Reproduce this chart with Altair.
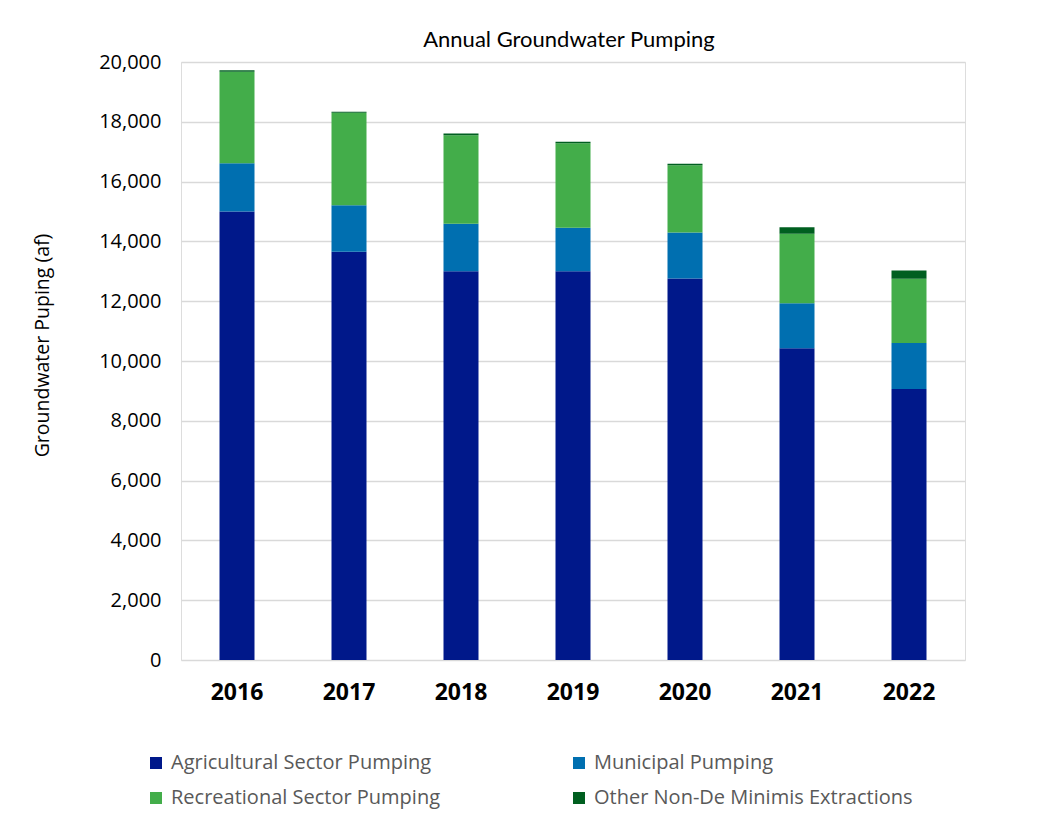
import altair as alt
import pandas as pd

years = ["2016", "2017", "2018", "2019", "2020", "2021", "2022"]
series = [
    "Agricultural Sector Pumping",
    "Municipal Pumping",
    "Recreational Sector Pumping",
    "Other Non-De Minimis Extractions",
]
agri = [15000, 13650, 13000, 13000, 12760, 10430, 9060]
muni = [1610, 1560, 1590, 1460, 1540, 1500, 1540]
rec = [3060, 3090, 2960, 2820, 2250, 2330, 2150]
other = [50, 35, 55, 55, 45, 210, 280]
colors = ["#00188a", "#006fb0", "#43ad4a", "#005f20"]

rows = []
for i, y in enumerate(years):
    for k, (name, vals) in enumerate(zip(series, [agri, muni, rec, other])):
        rows.append({"year": y, "series": name, "value": vals[i], "ord": k})
df = pd.DataFrame(rows)

chart = (
    alt.Chart(df)
    .mark_bar()
    .encode(
        x=alt.X(
            "year:N",
            title=None,
            scale=alt.Scale(paddingInner=0.6875, paddingOuter=0.34375),
            axis=alt.Axis(
                labelAngle=0,
                labelFont="Open Sans",
                labelFontWeight="bold",
                labelFontSize=23,
                labelColor="#000000",
                labelPadding=21,
                ticks=False,
                domain=False,
                grid=False,
            ),
        ),
        y=alt.Y(
            "value:Q",
            stack="zero",
            title="Groundwater Puping (af)",
            scale=alt.Scale(domain=[0, 20000], nice=False),
            axis=alt.Axis(
                values=list(range(0, 20001, 2000)),
                format=",.0f",
                labelFont="Open Sans",
                labelFontSize=20,
                labelColor="#000000",
                labelPadding=20,
                ticks=False,
                domain=False,
                gridColor="#d9d9d9",
                gridWidth=1.5,
                titleFont="Open Sans",
                titleFontSize=19.5,
                titleFontWeight="normal",
                titleColor="#000000",
                titleAngle=270,
                titleAlign="center",
                titleBaseline="middle",
                titleX=-139,
                titleY=283,
            ),
        ),
        color=alt.Color(
            "series:N",
            scale=alt.Scale(domain=series, range=colors),
            legend=alt.Legend(
                title=None,
                orient="none",
                direction="horizontal",
                legendX=-35,
                legendY=691,
                columns=2,
                columnPadding=128,
                rowPadding=15,
                symbolType="square",
                symbolSize=144,
                symbolStrokeWidth=0,
                labelFont="Open Sans",
                labelFontSize=20,
                labelColor="#595959",
                labelOffset=5,
                labelLimit=500,
            ),
        ),
        order=alt.Order("ord:Q", sort="ascending"),
    )
    .properties(
        width=784,
        height=598,
        title=alt.TitleParams(
            "Annual Groundwater Pumping",
            font="Lato",
            fontSize=22,
            fontWeight="normal",
            color="#000000",
            anchor="middle",
            offset=0,
            dx=-4,
        ),
        autosize=alt.AutoSizeParams(type="none"),
        padding={"left": 173, "top": 54, "right": 88, "bottom": 156},
    )
    .configure_view(stroke="#bfbfbf", strokeWidth=2)
    .configure(background="#ffffff")
)

chart.save("out.html", embed_options={"renderer": "svg", "actions": False})
